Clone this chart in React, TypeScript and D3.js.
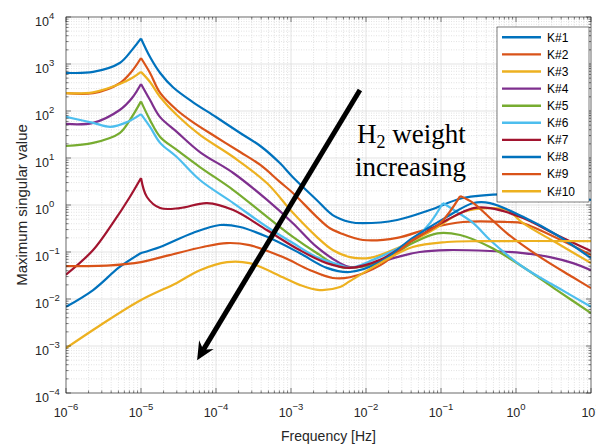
import { curveCatmullRom, line, range, scaleLog, select } from "d3";
import { FC, useEffect, useRef } from "react";

type Pt = [number, number];

const WIDTH = 596;
const HEIGHT = 446;

const xTicks = [1e-6, 1e-5, 1e-4, 1e-3, 1e-2, 1e-1, 1, 10];
const xTickExps = ["−6", "−5", "−4", "−3", "−2", "−1", "0", "1"];
const yTicks = [1e-4, 1e-3, 1e-2, 1e-1, 1, 10, 100, 1e3, 1e4];
const yTickExps = ["−4", "−3", "−2", "−1", "0", "1", "2", "3", "4"];

const seriesNames = ["K#1", "K#2", "K#3", "K#4", "K#5", "K#6", "K#7", "K#8", "K#9", "K#10"];
const seriesColors = [
  "#0072BD", "#D95319", "#EDB120", "#7E2F8E", "#77AC30",
  "#4DBEEE", "#A2142F", "#0072BD", "#D95319", "#EDB120"
];

// [frequency Hz, max singular value]
const k1: Pt[] = [
  [1e-6, 650], [2.3e-6, 680], [5.2e-6, 1050], [7.6e-6, 2000], [1e-5, 3500],
  [1.32e-5, 1410], [1.8e-5, 644], [2.67e-5, 320], [4.9e-5, 155], [1e-4, 74.5],
  [2.1e-4, 34], [3.9e-4, 18], [7.1e-4, 7.8], [1.06e-3, 3.9], [2.2e-3, 1.28],
  [3.6e-3, 0.61], [6.1e-3, 0.435], [9.1e-3, 0.41], [0.026, 0.48], [0.071, 0.78],
  [0.196, 1.41], [0.76, 1.71], [2.1, 1.63], [5.75, 1.41], [10, 1.28]
];
const k2: Pt[] = [
  [1e-6, 240], [2.3e-6, 240], [5.2e-6, 390], [7.6e-6, 710], [1e-5, 1340],
  [1.32e-5, 644], [1.8e-5, 242], [3e-5, 105], [4.9e-5, 58], [1e-4, 28],
  [2.1e-4, 13.4], [3.9e-4, 7.1], [7.1e-4, 3.1], [1.06e-3, 1.8], [2.2e-3, 0.56],
  [3.3e-3, 0.32], [4.5e-3, 0.254], [9.1e-3, 0.18], [0.026, 0.2], [0.071, 0.32],
  [0.196, 0.435], [0.76, 0.435], [1.24, 0.41], [2.1, 0.29], [4.8, 0.155], [10, 0.086]
];
const k3: Pt[] = [
  [1e-6, 240], [2.3e-6, 250], [5.2e-6, 375], [7.6e-6, 503], [1e-5, 680],
  [1.32e-5, 414], [1.8e-5, 199], [3e-5, 82], [6.1e-5, 31], [1.7e-4, 10.5],
  [4.8e-4, 2.9], [1.06e-3, 0.68], [2.2e-3, 0.21], [3.6e-3, 0.11], [6.1e-3, 0.078],
  [0.0113, 0.075], [0.026, 0.12], [0.071, 0.27], [0.196, 0.71], [0.45, 0.86],
  [0.76, 0.78], [1.24, 0.41], [3.5, 0.155], [10, 0.058]
];
const k4: Pt[] = [
  [1e-6, 53], [2.3e-6, 56], [5.2e-6, 105], [7.6e-6, 189], [1e-5, 375],
  [1.32e-5, 171], [1.8e-5, 74], [3e-5, 36], [6.1e-5, 13.4], [1.7e-4, 4.8],
  [4.8e-4, 1.28], [1.06e-3, 0.41], [2.2e-3, 0.128], [4.5e-3, 0.058], [6.1e-3, 0.048],
  [0.0113, 0.053], [0.026, 0.078], [0.052, 0.1], [0.12, 0.11], [0.45, 0.105],
  [1.24, 0.095], [2.84, 0.078], [5.75, 0.058], [10, 0.041]
];
const k5: Pt[] = [
  [1e-6, 18], [2.3e-6, 21], [5.2e-6, 34], [7.1e-6, 64], [1e-5, 160],
  [1.32e-5, 64], [1.8e-5, 28], [3e-5, 14.8], [6.1e-5, 6.4], [1.7e-4, 2.08],
  [4.8e-4, 0.56], [1.06e-3, 0.21], [2.2e-3, 0.095], [4.5e-3, 0.048], [6.1e-3, 0.046],
  [0.0154, 0.061], [0.042, 0.155], [0.089, 0.25], [0.18, 0.23], [0.45, 0.128],
  [1.24, 0.048], [3.5, 0.0155], [10, 0.005]
];
const k6: Pt[] = [
  [1e-6, 75], [2.3e-6, 56], [3.9e-6, 46], [6.5e-6, 58], [1e-5, 86],
  [1.32e-5, 46], [1.8e-5, 21], [3e-5, 10.5], [6.1e-5, 3.4], [1.7e-4, 1.1],
  [4.8e-4, 0.34], [1.06e-3, 0.155], [2.2e-3, 0.078], [4.5e-3, 0.053], [6.1e-3, 0.046],
  [0.0124, 0.068], [0.042, 0.18], [0.071, 0.41], [0.106, 1.1], [0.163, 0.71],
  [0.27, 0.41], [0.45, 0.18], [1.24, 0.048], [3.5, 0.018], [10, 0.0068]
];
const k7: Pt[] = [
  [1e-6, 0.033], [2.3e-6, 0.11], [4.2e-6, 0.41], [7.1e-6, 1.48], [1e-5, 3.75],
  [1.2e-5, 1.48], [1.8e-5, 0.86], [3.3e-5, 0.86], [7.6e-5, 1.1], [1.7e-4, 0.78],
  [4.8e-4, 0.29], [1.3e-3, 0.11], [3e-3, 0.058], [6.1e-3, 0.046], [0.0154, 0.068],
  [0.042, 0.18], [0.12, 0.48], [0.27, 0.86], [0.45, 0.86], [1.24, 0.53],
  [3.5, 0.23], [10, 0.105]
];
const k8: Pt[] = [
  [1e-6, 0.0068], [2.3e-6, 0.0155], [5.2e-6, 0.048], [1e-5, 0.095], [1.8e-5, 0.128],
  [4.9e-5, 0.254], [1.13e-4, 0.375], [2.1e-4, 0.34], [4.8e-4, 0.21], [1.3e-3, 0.095],
  [3e-3, 0.046], [6.1e-3, 0.0375], [0.0154, 0.061], [0.042, 0.2], [0.12, 0.56],
  [0.27, 1.1], [0.45, 1.1], [1.24, 0.56], [3.5, 0.23], [10, 0.074]
];
const k9: Pt[] = [
  [1e-6, 0.05], [3.9e-6, 0.052], [1e-5, 0.061], [2.4e-5, 0.086], [6.7e-5, 0.128],
  [1.4e-4, 0.155], [2.8e-4, 0.14], [7.8e-4, 0.078], [1.8e-3, 0.041], [3.6e-3, 0.028],
  [6.1e-3, 0.029], [0.0154, 0.052], [0.042, 0.18], [0.097, 0.41], [0.18, 1.55],
  [0.27, 1.1], [0.45, 0.53], [0.76, 0.25], [2.1, 0.078], [5.75, 0.029], [10, 0.017]
];
const k10: Pt[] = [
  [1e-6, 0.0009], [2.8e-6, 0.0027], [1e-5, 0.0095], [3e-5, 0.022], [6.1e-5, 0.041],
  [1.4e-4, 0.061], [2.8e-4, 0.058], [7.8e-4, 0.029], [1.3e-3, 0.02], [2.4e-3, 0.0155],
  [4.5e-3, 0.018], [6.1e-3, 0.024], [0.0154, 0.058], [0.042, 0.128], [0.12, 0.163],
  [0.33, 0.17], [10, 0.17]
];
const seriesData = [k1, k2, k3, k4, k5, k6, k7, k8, k9, k10];

// frequencies where a curve has a sharp corner (resonance cusp)
const cuspFreqs = [[1e-5], [1e-5], [1e-5], [1e-5], [1e-5], [1e-5, 0.106], [1e-5], [1e-5], [0.18], []];

// annotation arrow, in data coordinates
const arrowFrom: Pt = [8.3e-3, 280];
const arrowTo: Pt = [5.6e-5, 5e-4];

const FONT = "'Liberation Sans', Arial, Helvetica, sans-serif";
const AXIS_COLOR = "#262626";

const Chart: FC = () => {
  const svgRef = useRef<SVGSVGElement>(null);

  useEffect(() => {
    const svg = select(svgRef.current);
    svg.selectAll("*").remove();

    const x = scaleLog().domain([1e-6, 10]).range([66, 591]);
    const y = scaleLog().domain([1e-4, 1e4]).range([393, 17]);
    const [xl, xr] = x.range();
    const [yb, yt] = y.range();

    const minorX = xTicks.slice(0, -1).flatMap((d) => range(2, 10).map((k) => d * k));
    const minorY = yTicks.slice(0, -1).flatMap((d) => range(2, 10).map((k) => d * k));

    svg.append("rect").attr("width", WIDTH).attr("height", HEIGHT).attr("fill", "#fff");

    // grid
    const grid = svg.append("g");
    grid.selectAll(".mgx").data(minorX).join("line")
      .attr("x1", (d) => x(d)).attr("x2", (d) => x(d)).attr("y1", yt).attr("y2", yb)
      .attr("stroke", "#cfcfcf").attr("stroke-width", 0.6).attr("stroke-dasharray", "1,1.5");
    grid.selectAll(".mgy").data(minorY).join("line")
      .attr("y1", (d) => y(d)).attr("y2", (d) => y(d)).attr("x1", xl).attr("x2", xr)
      .attr("stroke", "#cfcfcf").attr("stroke-width", 0.6).attr("stroke-dasharray", "1,1.5");
    grid.append("g").selectAll("line").data(xTicks).join("line")
      .attr("x1", (d) => x(d)).attr("x2", (d) => x(d)).attr("y1", yt).attr("y2", yb)
      .attr("stroke", "#dcdcdc").attr("stroke-width", 0.8);
    grid.append("g").selectAll("line").data(yTicks).join("line")
      .attr("y1", (d) => y(d)).attr("y2", (d) => y(d)).attr("x1", xl).attr("x2", xr)
      .attr("stroke", "#dcdcdc").attr("stroke-width", 0.8);

    // curves
    svg.append("clipPath").attr("id", "plot-clip").append("rect")
      .attr("x", xl).attr("y", yt).attr("width", xr - xl).attr("height", yb - yt);

    const path = line<Pt>().x((d) => x(d[0])).y((d) => y(d[1])).curve(curveCatmullRom.alpha(0.5));
    const splitAtCusps = (pts: Pt[], cusps: number[]) => {
      const segs: Pt[][] = [];
      let cur: Pt[] = [];
      pts.forEach((p) => {
        cur.push(p);
        if (cusps.some((c) => Math.abs(Math.log10(c) - Math.log10(p[0])) < 1e-6)) {
          segs.push(cur);
          cur = [p];
        }
      });
      if (cur.length > 1) segs.push(cur);
      return segs.map((s) => path(s)).join("");
    };

    svg.append("g").attr("clip-path", "url(#plot-clip)")
      .selectAll("path").data(seriesData).join("path")
      .attr("d", (d, i) => splitAtCusps(d, cuspFreqs[i]))
      .attr("fill", "none")
      .attr("stroke", (_, i) => seriesColors[i])
      .attr("stroke-width", 2.2)
      .attr("stroke-linejoin", "round");

    // axes box and ticks
    const ax = svg.append("g").attr("stroke", AXIS_COLOR).attr("stroke-width", 0.6);
    ax.append("rect").attr("x", xl).attr("y", yt).attr("width", xr - xl).attr("height", yb - yt)
      .attr("fill", "none");
    const tickX = (vals: number[], len: number) => {
      ax.append("g").selectAll("line").data(vals).join("line")
        .attr("x1", (d) => x(d)).attr("x2", (d) => x(d)).attr("y1", yb).attr("y2", yb - len);
      ax.append("g").selectAll("line").data(vals).join("line")
        .attr("x1", (d) => x(d)).attr("x2", (d) => x(d)).attr("y1", yt).attr("y2", yt + len);
    };
    const tickY = (vals: number[], len: number) => {
      ax.append("g").selectAll("line").data(vals).join("line")
        .attr("y1", (d) => y(d)).attr("y2", (d) => y(d)).attr("x1", xl).attr("x2", xl + len);
      ax.append("g").selectAll("line").data(vals).join("line")
        .attr("y1", (d) => y(d)).attr("y2", (d) => y(d)).attr("x1", xr).attr("x2", xr - len);
    };
    tickX(xTicks, 5);
    tickX(minorX, 2.5);
    tickY(yTicks, 5);
    tickY(minorY, 2.5);

    // tick labels
    const xLab = svg.append("g").selectAll("text").data(xTicks).join("text")
      .attr("x", (d) => x(d)).attr("y", 417).attr("text-anchor", "middle")
      .attr("font-family", FONT).attr("font-size", 12.5).attr("fill", AXIS_COLOR);
    xLab.append("tspan").text("10");
    xLab.append("tspan").attr("dy", -7).attr("font-size", 9.5).text((_, i) => xTickExps[i]);

    const yLab = svg.append("g").selectAll("text").data(yTicks).join("text")
      .attr("x", 35).attr("y", (d) => y(d) + 8.5)
      .attr("font-family", FONT).attr("font-size", 12.5).attr("fill", AXIS_COLOR);
    yLab.append("tspan").text("10");
    yLab.append("tspan").attr("dy", -7).attr("font-size", 9.5).text((_, i) => yTickExps[i]);

    svg.append("text").attr("x", (xl + xr) / 2).attr("y", 441).attr("text-anchor", "middle")
      .attr("font-family", FONT).attr("font-size", 14).attr("fill", AXIS_COLOR)
      .text("Frequency [Hz]");
    svg.append("text").attr("transform", `translate(27,${(yt + yb) / 2}) rotate(-90)`)
      .attr("text-anchor", "middle")
      .attr("font-family", FONT).attr("font-size", 15).attr("fill", AXIS_COLOR)
      .text("Maximum singular value");

    // legend
    const lg = svg.append("g");
    lg.append("rect").attr("x", 497).attr("y", 27).attr("width", 92).attr("height", 175)
      .attr("fill", "#fff").attr("stroke", AXIS_COLOR).attr("stroke-width", 0.6);
    const row = lg.selectAll("g").data(seriesNames).join("g")
      .attr("transform", (_, i) => `translate(0,${37.3 + i * 17.1})`);
    row.append("line").attr("x1", 502).attr("x2", 541).attr("y1", 0).attr("y2", 0)
      .attr("stroke", (_, i) => seriesColors[i]).attr("stroke-width", 2.4);
    row.append("text").attr("x", 547).attr("y", 4.3)
      .attr("font-family", FONT).attr("font-size", 12).attr("fill", "#000")
      .text((d) => d);

    // annotation arrow
    const [sx, sy] = [x(arrowFrom[0]), y(arrowFrom[1])];
    const [ex, ey] = [x(arrowTo[0]), y(arrowTo[1])];
    const len = Math.hypot(ex - sx, ey - sy);
    const ux = (ex - sx) / len, uy = (ey - sy) / len;
    const nx = -uy, ny = ux;
    const headL = 18, headW = 8.5, notch = 12;
    const bx = ex - ux * headL, by = ey - uy * headL;
    svg.append("line").attr("x1", sx).attr("y1", sy)
      .attr("x2", ex - ux * notch).attr("y2", ey - uy * notch)
      .attr("stroke", "#000").attr("stroke-width", 5);
    svg.append("polygon")
      .attr("points", [
        [ex, ey], [bx + nx * headW, by + ny * headW],
        [ex - ux * notch, ey - uy * notch], [bx - nx * headW, by - ny * headW]
      ].map((p) => p.join(",")).join(" "))
      .attr("fill", "#000");

    const ann = svg.append("g").attr("font-family", "'Liberation Serif', 'Times New Roman', serif")
      .attr("font-size", 27).attr("fill", "#000");
    const t1 = ann.append("text").attr("x", 357).attr("y", 143);
    t1.append("tspan").text("H");
    t1.append("tspan").attr("font-size", 18).attr("dy", 5).text("2");
    t1.append("tspan").attr("dy", -5).text(" weight");
    ann.append("text").attr("x", 355).attr("y", 176).text("increasing");
  }, []);

  return (
    <svg
      ref={svgRef}
      width={WIDTH}
      height={HEIGHT}
      style={{ position: "absolute", left: 0, top: 0, overflow: "hidden" }}
    />
  );
};

export default function App() {
  return <Chart />;
}
